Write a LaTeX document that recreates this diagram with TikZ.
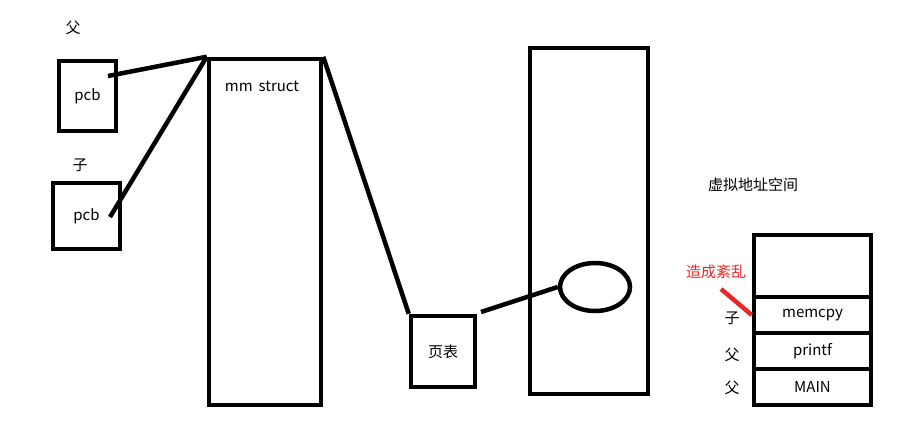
\documentclass[tikz,border=0pt]{standalone}
\usepackage{fontspec}
\setmainfont{Noto Sans CJK SC}
\usetikzlibrary{shapes.geometric}
\definecolor{messred}{RGB}{235,40,40}
\begin{document}
\begin{tikzpicture}[x=1pt,y=-1pt]
  \tikzstyle{every node}=[font=\fontsize{15}{17}\selectfont, inner sep=0pt]
  \tikzstyle{box}=[draw, line width=4.5pt]
  \tikzstyle{link}=[line width=4.5pt]
  \useasboundingbox (0,0) rectangle (904,441);
  % processes
  \node at (73,28) {父};
  \node[box, minimum width=57, minimum height=70] (pcbA) at (87.5,96) {pcb};
  \node at (80,165) {子};
  \node[box, minimum width=67, minimum height=66] (pcbB) at (86.5,216) {pcb};
  % mm struct
  \node[box, minimum width=112, minimum height=346] (mm) at (265,232) {};
  \node at (262,86) {mm\hspace{0.4em}struct};
  % page table and memory
  \node[box, minimum width=64, minimum height=71] (pt) at (443,351.5) {页表};
  \node[box, minimum width=118, minimum height=346] (mem) at (589,221) {};
  \node[box, ellipse, minimum width=70, minimum height=48] (page) at (595,287) {};
  % virtual address space
  \node at (753,185) {虚拟地址空间};
  \node[box, minimum width=117, minimum height=62] (s0) at (812.5,266) {};
  \node[box, minimum width=117, minimum height=36] (s1) at (812.5,315) {memcpy};
  \node[box, minimum width=117, minimum height=36] (s2) at (812.5,351) {printf};
  \node[box, minimum width=117, minimum height=36] (s3) at (812.5,387) {MAIN};
  \node at (732,318) {子};
  \node at (732,355) {父};
  \node at (732,388) {父};
  \node[text=messred] (mess) at (716,272) {造成紊乱};
  % connectors
  \coordinate (pa) at (108,76);
  \coordinate (pb) at (110,217);
  \coordinate (pp) at (481,312);
  \coordinate (mk) at (721,289);
  \draw[link] (pa) -- (mm.north west);
  \draw[link] (pb) -- (mm.north west);
  \draw[link] (mm.north east) -- (pt.north west);
  \draw[link] (pp) -- (page.west);
  \draw[link, draw=messred] (mk) -- (s1.west);
\end{tikzpicture}
\end{document}
